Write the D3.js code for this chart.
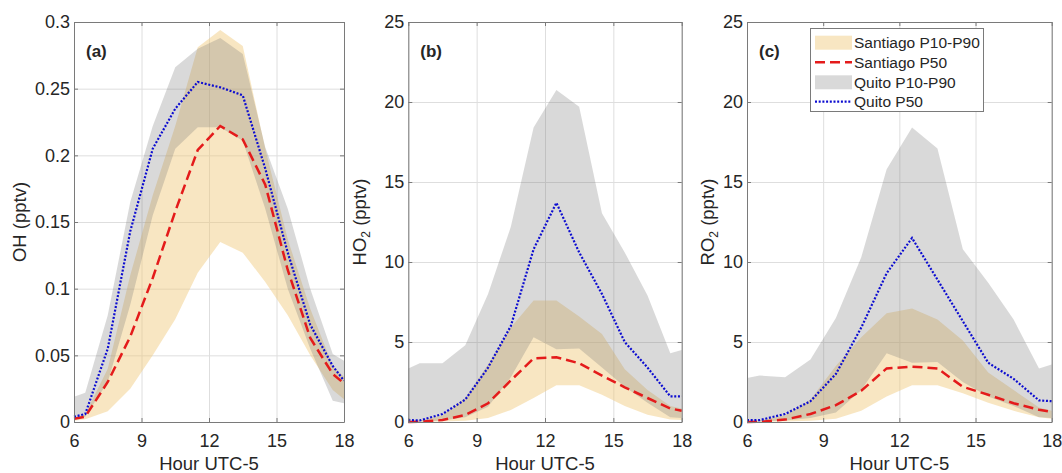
<!DOCTYPE html>
<html>
<head>
<meta charset="utf-8">
<script src="https://cdn.jsdelivr.net/npm/d3@7"></script>
<style>
  body { margin: 0; background: #fff; }
  svg text { font-family: "Liberation Sans", Arial, Helvetica, sans-serif; fill: #262626; }
</style>
</head>
<body>
<svg id="chart" width="1062" height="473"></svg>
<script>
// hours of the day (UTC-5), axis ends included
var hours = [6, 6.5, 7.5, 8.5, 9.5, 10.5, 11.5, 12.5, 13.5, 14.5, 15.5, 16.5, 17.5, 18];
var xTicks = [6, 9, 12, 15, 18];
var ohTicks = [0, 0.05, 0.1, 0.15, 0.2, 0.25, 0.3];
var pptTicks = [0, 5, 10, 15, 20, 25];

// (a) OH
var ohSantiagoP10 = [0.001, 0.002, 0.008, 0.025, 0.05, 0.077, 0.112, 0.135, 0.127, 0.105, 0.08, 0.05, 0.024, 0.017];
var ohSantiagoP50 = [0.0025, 0.004, 0.03, 0.064, 0.108, 0.158, 0.204, 0.222, 0.212, 0.178, 0.114, 0.063, 0.036, 0.029];
var ohSantiagoP90 = [0.003, 0.006, 0.04, 0.11, 0.17, 0.222, 0.281, 0.294, 0.282, 0.205, 0.137, 0.085, 0.042, 0.034];
var ohQuitoP10 = [0.002, 0.004, 0.03, 0.088, 0.155, 0.205, 0.221, 0.221, 0.211, 0.16, 0.1, 0.055, 0.016, 0.014];
var ohQuitoP50 = [0.004, 0.006, 0.055, 0.143, 0.205, 0.235, 0.255, 0.251, 0.245, 0.19, 0.127, 0.073, 0.042, 0.031];
var ohQuitoP90 = [0.019, 0.022, 0.08, 0.165, 0.222, 0.266, 0.28, 0.288, 0.276, 0.206, 0.16, 0.1, 0.051, 0.046];

// (b) HO2
var ho2SantiagoP10 = [0, 0.01, 0.03, 0.08, 0.25, 0.75, 1.5, 2.3, 2.3, 1.7, 1.0, 0.45, 0.15, 0.12];
var ho2SantiagoP50 = [0, 0.02, 0.12, 0.44, 1.17, 2.6, 3.98, 4.05, 3.67, 2.9, 2.17, 1.5, 0.85, 0.7];
var ho2SantiagoP90 = [0.05, 0.1, 0.4, 1.5, 3.6, 5.9, 7.6, 7.6, 6.6, 5.5, 3.3, 2.0, 1.0, 0.85];
var ho2QuitoP10 = [0, 0.02, 0.1, 0.3, 0.95, 2.8, 5.3, 4.55, 4.6, 3.4, 2.2, 1.2, 0.3, 0.25];
var ho2QuitoP50 = [0.12, 0.1, 0.5, 1.4, 3.4, 6.0, 10.8, 13.7, 10.6, 8.0, 5.0, 3.4, 1.6, 1.6];
var ho2QuitoP90 = [3.35, 3.67, 3.67, 4.8, 8.0, 12.2, 18.4, 20.75, 19.7, 13.05, 10.6, 7.9, 4.3, 4.5];

// (c) RO2
var ro2SantiagoP10 = [0, 0.01, 0.03, 0.08, 0.2, 0.7, 1.6, 2.3, 2.3, 1.8, 1.2, 0.7, 0.3, 0.2];
var ro2SantiagoP50 = [0, 0.01, 0.15, 0.5, 1.05, 1.95, 3.35, 3.46, 3.35, 2.2, 1.7, 1.17, 0.77, 0.63];
var ro2SantiagoP90 = [0.05, 0.1, 0.4, 1.4, 3.5, 5.3, 6.8, 7.1, 6.4, 5.1, 3.1, 2.0, 0.9, 0.7];
var ro2QuitoP10 = [0, 0.02, 0.1, 0.25, 0.6, 2.0, 4.3, 3.7, 3.75, 2.5, 1.6, 1.0, 0.3, 0.25];
var ro2QuitoP50 = [0.12, 0.12, 0.5, 1.3, 3.0, 5.9, 9.3, 11.5, 8.9, 6.3, 3.7, 2.7, 1.35, 1.3];
var ro2QuitoP90 = [2.75, 2.9, 2.8, 3.9, 6.5, 10.3, 15.8, 18.4, 17.1, 10.8, 8.7, 6.4, 3.35, 3.6];

var legendLabels = ['Santiago P10-P90', 'Santiago P50', 'Quito P10-P90', 'Quito P50'];

var colors = {
  tan: 'rgb(240,200,120)', tanAlpha: 0.45,
  grey: 'rgb(120,120,120)', greyAlpha: 0.28,
  red: '#e41b1b', blue: '#0c0cd0',
  grid: '#dedede', box: '#7a7a7a'
};

var plotTop = 22, plotBottom = 422;
var svg = d3.select('#chart');

var panels = [
  { tag: '(a)', left: 74, right: 344, ymax: 0.3, ticks: ohTicks, name: 'OH', sub: '', labelX: 25.5,
    fmt: function (d) { return d === 0 ? '0' : String(d); },
    sP10: ohSantiagoP10, sP50: ohSantiagoP50, sP90: ohSantiagoP90,
    qP10: ohQuitoP10, qP50: ohQuitoP50, qP90: ohQuitoP90 },
  { tag: '(b)', left: 408.3, right: 681.7, ymax: 25, ticks: pptTicks, name: 'HO', sub: '2', labelX: 366,
    fmt: String,
    sP10: ho2SantiagoP10, sP50: ho2SantiagoP50, sP90: ho2SantiagoP90,
    qP10: ho2QuitoP10, qP50: ho2QuitoP50, qP90: ho2QuitoP90 },
  { tag: '(c)', left: 747, right: 1051.7, ymax: 25, ticks: pptTicks, name: 'RO', sub: '2', labelX: 714,
    fmt: String,
    sP10: ro2SantiagoP10, sP50: ro2SantiagoP50, sP90: ro2SantiagoP90,
    qP10: ro2QuitoP10, qP50: ro2QuitoP50, qP90: ro2QuitoP90 }
];

panels.forEach(function (p, pi) {
  var x = d3.scaleLinear().domain([6, 18]).range([p.left, p.right]);
  var y = d3.scaleLinear().domain([0, p.ymax]).range([plotBottom, plotTop]);
  var w = p.right - p.left, h = plotBottom - plotTop;
  var g = svg.append('g');

  // grid
  g.append('g').attr('transform', 'translate(0,' + plotBottom + ')')
    .call(d3.axisBottom(x).tickValues(xTicks).tickSize(-h).tickFormat(''))
    .call(function (s) { s.select('.domain').remove(); s.selectAll('line').attr('stroke', colors.grid); });
  g.append('g').attr('transform', 'translate(' + p.left + ',0)')
    .call(d3.axisLeft(y).tickValues(p.ticks).tickSize(-w).tickFormat(''))
    .call(function (s) { s.select('.domain').remove(); s.selectAll('line').attr('stroke', colors.grid); });

  var band = function (lo, hi) {
    return d3.area().x(function (d, i) { return x(hours[i]); })
      .y0(function (d, i) { return y(lo[i]); })
      .y1(function (d, i) { return y(hi[i]); })(hours);
  };
  var line = function (vals) {
    return d3.line().x(function (d, i) { return x(hours[i]); })
      .y(function (d) { return y(d); })(vals);
  };

  g.append('path').attr('d', band(p.sP10, p.sP90))
    .attr('fill', colors.tan).attr('fill-opacity', colors.tanAlpha);
  g.append('path').attr('d', band(p.qP10, p.qP90))
    .attr('fill', colors.grey).attr('fill-opacity', colors.greyAlpha);
  g.append('path').attr('d', line(p.sP50)).attr('fill', 'none')
    .attr('stroke', colors.red).attr('stroke-width', 2.5).attr('stroke-dasharray', '10,5');
  g.append('path').attr('d', line(p.qP50)).attr('fill', 'none')
    .attr('stroke', colors.blue).attr('stroke-width', 2.2).attr('stroke-dasharray', '2,1.7');

  // axes box with inward ticks
  var styleAxis = function (s) {
    s.select('.domain').attr('stroke', colors.box);
    s.selectAll('.tick line').attr('stroke', colors.box);
    s.selectAll('text').attr('font-size', 18).attr('fill', '#262626')
      .style('font-family', '"Liberation Sans", Arial, sans-serif');
  };
  g.append('g').attr('transform', 'translate(0,' + plotBottom + ')')
    .call(d3.axisBottom(x).tickValues(xTicks).tickSizeInner(-4).tickSizeOuter(0).tickPadding(12))
    .call(styleAxis);
  g.append('g').attr('transform', 'translate(0,' + plotTop + ')')
    .call(d3.axisTop(x).tickValues(xTicks).tickSizeInner(-4).tickSizeOuter(0).tickFormat(''))
    .call(styleAxis);
  g.append('g').attr('transform', 'translate(' + p.left + ',0)')
    .call(d3.axisLeft(y).tickValues(p.ticks).tickFormat(p.fmt).tickSizeInner(-4).tickSizeOuter(0).tickPadding(4))
    .call(styleAxis);
  g.append('g').attr('transform', 'translate(' + p.right + ',0)')
    .call(d3.axisRight(y).tickValues(p.ticks).tickSizeInner(-4).tickSizeOuter(0).tickFormat(''))
    .call(styleAxis);

  // labels
  g.append('text').attr('x', (p.left + p.right) / 2).attr('y', 470)
    .attr('text-anchor', 'middle').attr('font-size', 18.5).text('Hour UTC-5');
  var yl = g.append('text').attr('transform', 'translate(' + p.labelX + ',' + ((plotTop + plotBottom) / 2) + ') rotate(-90)')
    .attr('text-anchor', 'middle').attr('font-size', 18.5);
  yl.append('tspan').text(p.name);
  if (p.sub) {
    yl.append('tspan').attr('font-size', 12).attr('dy', 4).text(p.sub);
    yl.append('tspan').attr('dy', -4).text(' (pptv)');
  } else {
    yl.append('tspan').text(' (pptv)');
  }
  g.append('text').attr('x', p.left + 12).attr('y', 56.5)
    .attr('font-size', 17).attr('font-weight', 'bold').text(p.tag);

  // legend in the last panel
  if (pi === 2) {
    var lg = svg.append('g');
    lg.append('rect').attr('x', 810.5).attr('y', 28.5).attr('width', 173).attr('height', 83)
      .attr('fill', '#fff').attr('stroke', colors.box);
    var rowY = [42.7, 62.3, 82.3, 101.7];
    legendLabels.forEach(function (lab, i) {
      var cy = rowY[i];
      if (i === 0 || i === 2) {
        lg.append('rect').attr('x', 815).attr('y', cy - 7).attr('width', 37).attr('height', 14)
          .attr('fill', i === 0 ? colors.tan : colors.grey)
          .attr('fill-opacity', i === 0 ? colors.tanAlpha : colors.greyAlpha);
      } else {
        lg.append('line').attr('x1', 815).attr('x2', 852).attr('y1', cy).attr('y2', cy)
          .attr('stroke', i === 1 ? colors.red : colors.blue)
          .attr('stroke-width', i === 1 ? 2.5 : 2.2)
          .attr('stroke-dasharray', i === 1 ? '10,5' : '2,1.7');
      }
      lg.append('text').attr('x', 854).attr('y', cy + 5.5).attr('font-size', 15.5).text(lab);
    });
  }
});
</script>
</body>
</html>
